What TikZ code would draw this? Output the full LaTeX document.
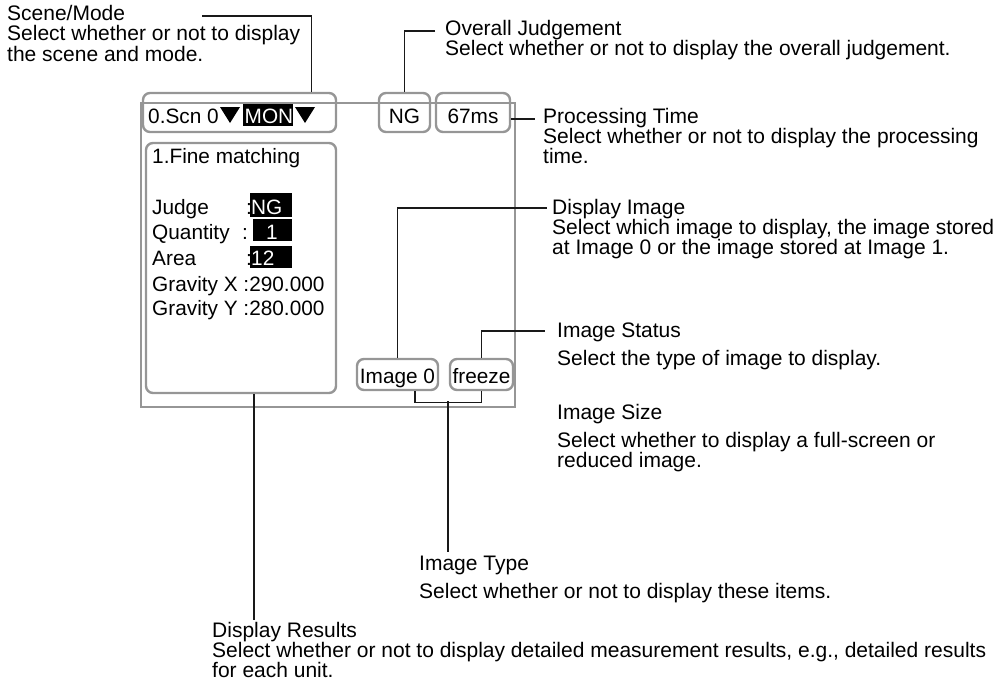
\documentclass[tikz,border=0pt]{standalone}
\usepackage{fontspec}
\setmainfont{Liberation Sans}
\usetikzlibrary{calc}
\definecolor{scrgray}{HTML}{969696}
\newcommand\anfont{\fontsize{21}{20}\selectfont}
\newcommand\scfont{\fontsize{20.8}{20}\selectfont}
\newcommand\gap[1]{\vskip #1pt}
\begin{document}
\begin{tikzpicture}[x=1pt,y=-1pt,
  scr/.style={draw=scrgray, line width=2.3pt, inner sep=0pt},
  rbox/.style={draw=scrgray, line width=2.4pt, rounded corners=7pt, inner sep=0pt},
  lead/.style={draw=black!90, line width=1.3pt},
  lbl/.style={anchor=base west, inner sep=0pt, font=\anfont},
  stxt/.style={anchor=base west, inner sep=0pt, font=\scfont},
  ctxt/.style={anchor=base, inner sep=0pt, font=\scfont},
  hl/.style={fill=black},
  tri/.style={fill=black}]
\useasboundingbox (0,0) rectangle (1003,685);

% ---------- screen ----------
\node[scr, minimum width=374pt, minimum height=304pt] (screen) at (328,255) {};
\node[rbox, minimum width=193pt, minimum height=39pt] (scenebox) at (239.5,112.5) {};
\node[rbox, minimum width=51pt, minimum height=39pt] (ngbox) at (404.5,112.5) {};
\node[rbox, minimum width=74pt, minimum height=39pt] (msbox) at (473,112.5) {};
\node[rbox, minimum width=190pt, minimum height=250pt] (resbox) at (241,268) {};
\node[rbox, minimum width=81pt, minimum height=31pt] (imgbox) at (397.5,374.5) {};
\node[rbox, minimum width=63pt, minimum height=31pt] (frzbox) at (481.5,374.5) {};

% scene / mode line
\node[stxt] (scn) at (148,123) {0.Scn 0};
\fill[tri] (220,107) -- (240,107) -- (230,123) -- cycle;
\fill[hl] (243,104) rectangle (293,126);
\node[stxt, text=white] (mon) at (244.5,123) {MON};
\fill[tri] (295,107) -- (315,107) -- (305,123) -- cycle;
\node[ctxt] (ngtxt) at (404.5,123) {NG};
\node[ctxt] (mstxt) at (473,123) {67ms};

% results
\node[stxt] (fine) at (152,163) {1.Fine matching};
\node[stxt] (judge) at (152,214) {Judge};
\node[stxt] (jc) at (246,214) {:};
\fill[hl] (250,193) rectangle (292,217);
\node[stxt, text=white] (jv) at (251,214) {NG};
\node[stxt] (qty) at (152,239) {Quantity};
\node[stxt] (qc) at (242,239) {:};
\fill[hl] (253,219) rectangle (292,241);
\node[stxt, text=white] (qv) at (266,239) {1};
\node[stxt] (area) at (152,265) {Area};
\node[stxt] (ac) at (246,265) {:};
\fill[hl] (250,246) rectangle (292,268);
\node[stxt, text=white] (av) at (251,265) {12};
\node[stxt] (gx) at (152,291) {Gravity X :290.000};
\node[stxt] (gy) at (152,315) {Gravity Y :280.000};

\node[ctxt] (imgtxt) at (397.5,383) {Image 0};
\node[ctxt] (frztxt) at (481.5,383) {freeze};

% ---------- annotations ----------
\node[lbl] (lscene) at (7,21) {\vtop{\hbox{Scene/Mode}\hbox{Select whether or not to display}\hbox{the scene and mode.}}};
\node[lbl] (lover) at (445,36) {\vtop{\hbox{Overall Judgement}\hbox{Select whether or not to display the overall judgement.}}};
\node[lbl] (lproc) at (543,123) {\vtop{\hbox{Processing Time}\hbox{Select whether or not to display the processing}\hbox{time.}}};
\node[lbl] (ldisp) at (552,214) {\vtop{\hbox{Display Image}\hbox{Select which image to display, the image stored}\hbox{at Image 0 or the image stored at Image 1.}}};
\node[lbl] (lstat) at (557,337) {\vtop{\hbox{Image Status}\gap{8}\hbox{Select the type of image to display.}}};
\node[lbl] (lsize) at (557,419) {\vtop{\hbox{Image Size}\gap{8}\hbox{Select whether to display a full-screen or}\hbox{reduced image.}}};
\node[lbl] (ltype) at (419,570) {\vtop{\hbox{Image Type}\gap{8}\hbox{Select whether or not to display these items.}}};
\node[lbl] (lres) at (212,637) {\vtop{\hbox{Display Results}\hbox{Select whether or not to display detailed measurement results, e.g., detailed results}\hbox{for each unit.}}};

% ---------- leaders ----------
\coordinate (cscene) at (202,16);
\draw[lead] (cscene) -| ([xshift=-26pt]scenebox.north east);
\coordinate (cover) at (435,31);
\draw[lead] (cover) -| (ngbox.north);
\coordinate (cproc) at (535,119);
\draw[lead] ([yshift=-6.5pt]msbox.east) -- (cproc);
\coordinate (cdisp) at (547,208);
\draw[lead] (imgbox.north) |- (cdisp);
\coordinate (cstat) at (545,331);
\draw[lead] (frzbox.north) |- (cstat);
\coordinate (ctype) at (448,552);
\draw[lead] ([xshift=17.5pt]imgbox.south) -- ++(0,11) -| (frzbox.south);
\draw[lead] (ctype |- 0,401) -- (ctype);
\coordinate (cres) at (254,620);
\draw[lead] ([xshift=13pt]resbox.south) -- (cres);
\end{tikzpicture}
\end{document}
